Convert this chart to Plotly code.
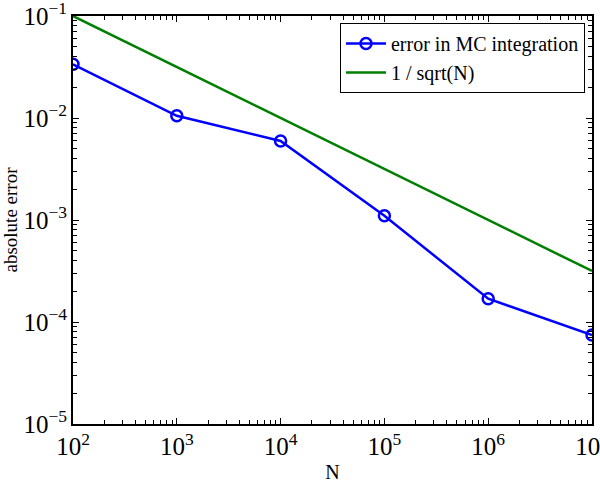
import plotly.graph_objects as go

N = [1e2, 1e3, 1e4, 1e5, 1e6, 1e7]
mc_error = [0.0336, 0.0105, 0.00596, 0.0011, 0.000169, 0.0000746]
ref_line = [0.1, 0.0316228, 0.01, 0.00316228, 0.001, 0.000316228]

font_family = "Liberation Serif"

fig = go.Figure()
fig.add_trace(go.Scatter(
    x=N, y=mc_error, mode="lines+markers", name="error in MC integration",
    line=dict(color="#0000ff", width=2.5),
    marker=dict(symbol="circle-open", size=11, color="#0000ff", line=dict(width=2.5)),
))
fig.add_trace(go.Scatter(
    x=N, y=ref_line, mode="lines", name="1 / sqrt(N)",
    line=dict(color="#007f00", width=2.5),
))

axis_common = dict(
    type="log", showgrid=False, zeroline=False,
    showline=True, linecolor="black", linewidth=2, mirror="ticks",
    ticks="inside", ticklen=6, tickwidth=1.3, tickcolor="black",
    exponentformat="power", dtick=1, ticklabeloverflow="allow", automargin=False,
    tickfont=dict(family=font_family, size=20, color="black"),
    minor=dict(ticks="inside", ticklen=4, tickcolor="black", tickwidth=1.3,
               dtick="D1", showgrid=False),
)

fig.update_layout(
    width=600, height=483,
    margin=dict(l=73, r=8, t=16, b=59),
    paper_bgcolor="white", plot_bgcolor="white",
    font=dict(family=font_family, color="black"),
    xaxis=dict(axis_common, range=[2, 7],
               title=dict(text="N", font=dict(family=font_family, size=20), standoff=6)),
    yaxis=dict(axis_common, range=[-5, -1],
               title=dict(text="absolute error", font=dict(family=font_family, size=19), standoff=6)),
    legend=dict(x=0.9865, y=0.983, xanchor="right", yanchor="top",
                bgcolor="white", bordercolor="black", borderwidth=1,
                font=dict(family=font_family, size=20), tracegroupgap=0,
                itemwidth=40),
    showlegend=True,
)

fig.write_html("out.html")
